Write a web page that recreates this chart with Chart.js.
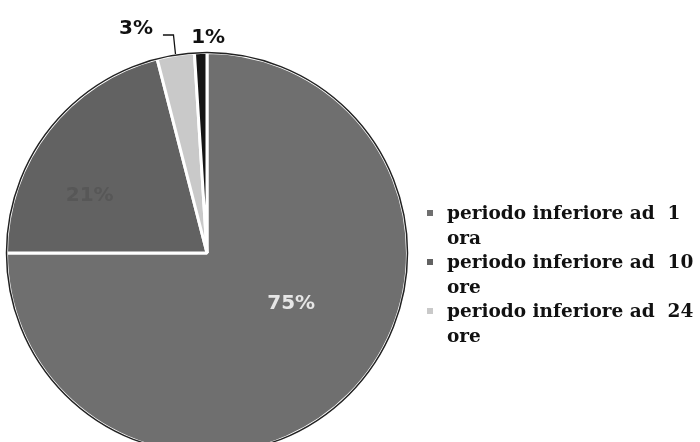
<!DOCTYPE html>
<html>
<head>
<meta charset="utf-8">
<script src="https://cdn.jsdelivr.net/npm/chart.js@4.4.0/dist/chart.umd.min.js"></script>
<style>
  html, body { margin:0; padding:0; width:700px; height:442px; overflow:hidden; background:#fff; }
  #wrap { position:absolute; left:0; top:0; width:700px; height:506px; }
  #legend { position:absolute; left:424px; top:201px; width:276px; font-family:"DejaVu Serif", serif; font-weight:bold; font-size:18.5px; line-height:24.6px; color:#111; }
  .item { position:relative; padding-left:23px; white-space:pre; }
  .mk { position:absolute; left:3px; top:9px; width:6px; height:6px; }
</style>
</head>
<body>
<div id="wrap"><canvas id="c" width="700" height="506"></canvas></div>
<div id="legend"></div>
<script>
// ---- data ----
const categories = ["periodo inferiore ad  1 ora", "periodo inferiore ad  10 ore", "periodo inferiore ad  24 ore", ""];
const values = [75, 21, 3, 1];
const valueLabels = ["75%", "21%", "3%", "1%"];
const legendCount = 3;

// ---- styles ----
const sliceColors = ["#6f6f6f", "#626262", "#c9c9c9", "#151515"];
const labelColors = ["#e6e6e6", "#575757", "#111111", "#111111"];
// polar placement of value labels: [angle offset from slice mid (deg), radius factor]
const labelPlace = [[-14, 0.49], [-12, 0.65], [-8.6, 1.172], [2.1, 1.072]];

const labelPlugin = {
  id: 'valueLabels',
  afterDatasetsDraw(chart) {
    const ctx = chart.ctx;
    const meta = chart.getDatasetMeta(0);
    ctx.save();
    const a0 = meta.data[0];
    ctx.beginPath();
    ctx.arc(a0.x, a0.y, a0.outerRadius, 0, Math.PI * 2);
    ctx.strokeStyle = "#222";
    ctx.lineWidth = 1.5;
    ctx.stroke();
    ctx.font = "bold 20px 'DejaVu Sans', sans-serif";
    ctx.textAlign = "center";
    ctx.textBaseline = "middle";
    meta.data.forEach((arc, i) => {
      const mid = (arc.startAngle + arc.endAngle) / 2 + labelPlace[i][0] * Math.PI / 180;
      const r = arc.outerRadius * labelPlace[i][1];
      const x = arc.x + Math.cos(mid) * r;
      const y = arc.y + Math.sin(mid) * r;
      ctx.fillStyle = labelColors[i];
      ctx.fillText(valueLabels[i], x, y);
      if (i === 2) {
        const edgeAng = (arc.startAngle + arc.endAngle) / 2;
        const ex = arc.x + Math.cos(edgeAng) * (arc.outerRadius + 1);
        const ey = arc.y + Math.sin(edgeAng) * (arc.outerRadius + 1);
        ctx.beginPath();
        ctx.moveTo(x + 27, y + 6);
        ctx.lineTo(ex - 2, y + 6);
        ctx.lineTo(ex, ey);
        ctx.strokeStyle = "#111";
        ctx.lineWidth = 1.3;
        ctx.stroke();
      }
    });
    ctx.restore();
  }
};

new Chart(document.getElementById('c'), {
  type: 'pie',
  data: {
    labels: categories,
    datasets: [{
      data: values,
      backgroundColor: sliceColors,
      borderColor: "#ffffff",
      borderWidth: 3
    }]
  },
  options: {
    responsive: false,
    animation: false,
    layout: { padding: { left: 5, top: 51, right: 291, bottom: 51 } },
    plugins: { legend: { display: false }, tooltip: { enabled: false } }
  },
  plugins: [labelPlugin]
});

// HTML legend built from categories (wrapped before the last word, as in the original)
const lg = document.getElementById('legend');
for (let i = 0; i < legendCount; i++) {
  const d = document.createElement('div');
  d.className = 'item';
  const m = document.createElement('span');
  m.className = 'mk';
  m.style.background = sliceColors[i];
  d.appendChild(m);
  const t = categories[i];
  const k = t.lastIndexOf(' ');
  d.appendChild(document.createTextNode(t.slice(0, k) + '\n' + t.slice(k + 1)));
  lg.appendChild(d);
}
</script>
</body>
</html>
